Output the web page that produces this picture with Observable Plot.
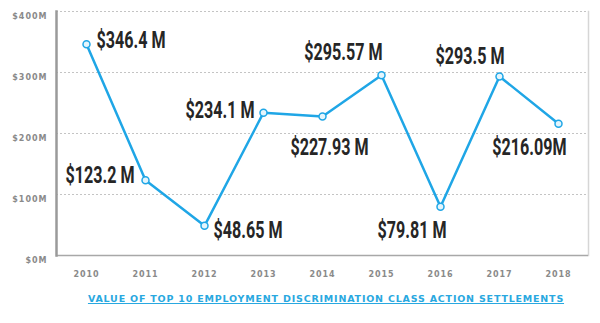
<!DOCTYPE html>
<html><head><meta charset="utf-8">
<script src="https://cdn.jsdelivr.net/npm/d3@7"></script>
<script src="https://cdn.jsdelivr.net/npm/@observablehq/plot@0.6"></script>
<style>
body{margin:0;background:#fff;}
#chart{width:600px;}
#chart svg{display:block;}
g[aria-label="y-axis tick label"] text, g[aria-label="x-axis tick label"] text{letter-spacing:1px;}
.caption{font-family:"DejaVu Sans",sans-serif;font-weight:bold;font-size:9.5px;letter-spacing:0.8px;color:#29a8e0;text-decoration:underline;text-align:center;padding-left:52px;margin-top:8px;line-height:12px;white-space:nowrap;}
</style>
</head><body>
<div id="chart"></div>
<script>
const years = ["2010","2011","2012","2013","2014","2015","2016","2017","2018"];
const values = [346.4, 123.2, 48.65, 234.1, 227.93, 295.57, 79.81, 293.5, 216.09];
const valueLabels = ["$346.4 M","$123.2 M","$48.65 M","$234.1 M","$227.93 M","$295.57 M","$79.81 M","$293.5 M","$216.09M"];
const yTicks = [0, 100, 200, 300, 400];
const yTickLabels = ["$0M","$100M","$200M","$300M","$400M"];
const captionText = "VALUE OF TOP 10 EMPLOYMENT DISCRIMINATION CLASS ACTION SETTLEMENTS";

const data = years.map((y, i) => ({year: y, value: values[i], label: valueLabels[i]}));

// label placement relative to each point (layout, not data)
const place = [
  {textAnchor:"start", dx:10, dy:-4},
  {textAnchor:"end", dx:-11, dy:-5},
  {textAnchor:"start", dx:9, dy:5},
  {textAnchor:"end", dx:-9, dy:-2},
  {textAnchor:"middle", dx:7, dy:31},
  {textAnchor:"end", dx:1, dy:-23},
  {textAnchor:"end", dx:6, dy:24},
  {textAnchor:"end", dx:5, dy:-20},
  {textAnchor:"end", dx:8, dy:24}
];

const blue = "#1fa6e6";
const labelMarks = data.map((d, i) => Plot.text([d], {
  x: "year", y: "value", text: "label",
  ...place[i],
  fontFamily: "Roboto, 'DejaVu Sans Condensed', sans-serif",
  fontWeight: "bold", fontSize: 23, fill: "#262626"
}));

const chart = Plot.plot({
  width: 600, height: 285,
  marginLeft: 56, marginRight: 12, marginTop: 11, marginBottom: 30,
  x: {type: "point", domain: years, padding: 0.5},
  y: {domain: [0, 400]},
  style: {fontFamily: "'DejaVu Sans',sans-serif", background: "#fff"},
  marks: [
    Plot.ruleY(yTicks.filter(v => v > 0), {stroke: "#c4c4c4", strokeDasharray: "2,2", strokeWidth: 1}),
    Plot.frame({anchor: "right", stroke: "#d6d6d6", strokeWidth: 1.5}),
    Plot.ruleY([0], {stroke: "#a8a8a8", strokeWidth: 1.5}),
    Plot.frame({anchor: "left", stroke: "#9a9a9a", strokeWidth: 2.5}),
    Plot.axisY({ticks: yTicks, tickFormat: (v) => yTickLabels[yTicks.indexOf(v)], tickSize: 0, tickPadding: 9, dy: 5, label: null,
      fill: "#8a8a8a", fontWeight: "bold", fontSize: 8}),
    Plot.axisX({tickSize: 0, tickPadding: 16, label: null, fill: "#8a8a8a", fontWeight: "bold", fontSize: 8}),
    Plot.line(data, {x: "year", y: "value", stroke: blue, strokeWidth: 2.5}),
    Plot.dot(data, {x: "year", y: "value", r: 3.5, stroke: blue, strokeWidth: 1.5, fill: "#e4f5fc"}),
    ...labelMarks
  ]
});
document.getElementById("chart").appendChild(chart);

// condense the value labels horizontally (text-anchor is kept by textLength)
chart.querySelectorAll('g[aria-label="text"] text').forEach(t => {
  const len = t.getComputedTextLength();
  if (len > 0) {
    t.setAttribute("textLength", (len * 0.7).toFixed(1));
    t.setAttribute("lengthAdjust", "spacingAndGlyphs");
  }
});

const cap = document.createElement("div");
cap.className = "caption";
cap.textContent = captionText;
document.getElementById("chart").appendChild(cap);
</script>
</body></html>
